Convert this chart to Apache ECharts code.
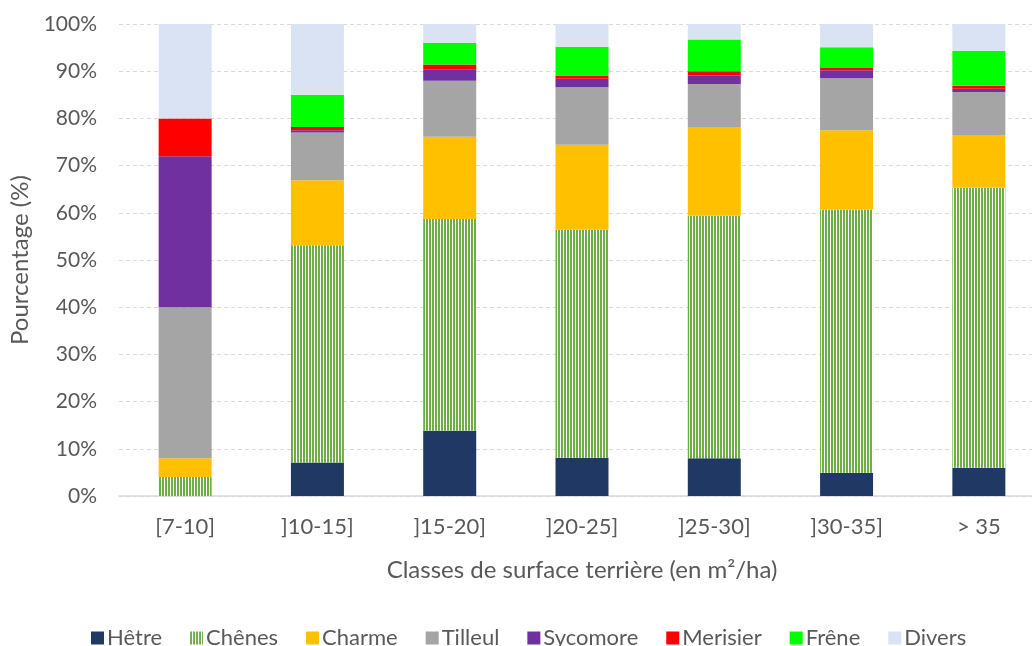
<!DOCTYPE html>
<html>
<head>
<meta charset="utf-8">
<script src="https://cdn.jsdelivr.net/npm/echarts@6/dist/echarts.min.js"></script>
<style>
  html, body { margin: 0; padding: 0; background: #fff; overflow: hidden; }
  #chart { width: 1045px; height: 646px; }
</style>
</head>
<body>
<div id="chart"></div>
<script>
// classes de surface terrière
const categories = ['[7-10]', ']10-15]', ']15-20]', ']20-25]', ']25-30]', ']30-35]', '> 35'];
const yTicks = [0, 10, 20, 30, 40, 50, 60, 70, 80, 90, 100];

// pourcentages par essence
const hetre    = [0,    7.1, 13.8,  8.1,  8.0,  4.9,  6.0];
const chenes   = [4,   46.0, 44.9, 48.3, 51.4, 55.8, 59.3];
const charme   = [4,   13.8, 17.4, 18.0, 18.8, 16.8, 11.2];
const tilleul  = [32,  10.1, 11.9, 12.2,  9.1, 11.0,  9.1];
const sycomore = [32,   0.5,  2.3,  1.8,  1.8,  1.7,  0.7];
const merisier = [8,    0.7,  1.1,  0.7,  0.9,  0.5,  0.6];
const frene    = [0,    6.8,  4.6,  6.1,  6.7,  4.4,  7.4];
const divers   = [20,  15.0,  4.0,  4.8,  3.3,  4.9,  5.7];

const seriesNames = ['Hêtre', 'Chênes', 'Charme', 'Tilleul', 'Sycomore', 'Merisier', 'Frêne', 'Divers'];
const seriesData = [hetre, chenes, charme, tilleul, sycomore, merisier, frene, divers];

// hachures verticales pour les chênes
const stripe = document.createElement('canvas');
stripe.width = 3;
stripe.height = 4;
const ctx = stripe.getContext('2d');
ctx.fillStyle = '#ffffff';
ctx.fillRect(0, 0, 3, 4);
ctx.fillStyle = '#70ad47';
ctx.fillRect(0, 0, 2, 4);

const colors = ['#203864', { image: stripe, repeat: 'repeat' }, '#ffc000', '#a5a5a5',
                '#7030a0', '#ff0000', '#00ff00', '#dae3f3'];

const font = 'Lato';
const txt = '#595959';

let myChart = echarts.init(document.getElementById('chart'));
myChart.setOption({
  animation: false,
  textStyle: { fontFamily: font },
  legend: {
    data: seriesNames,
    top: 622,
    left: 86,
    itemWidth: 13,
    itemHeight: 13,
    itemGap: 28,
    icon: 'rect',
    textStyle: { fontFamily: font, fontSize: 22, color: txt, padding: [0, 0, 0, -2] }
  },
  grid: {
    left: 119,
    right: 0,
    top: 24,
    height: 472,
    containLabel: false
  },
  xAxis: {
    type: 'category',
    data: categories,
    name: 'Classes de surface terrière (en m²/ha)',
    nameLocation: 'middle',
    nameGap: 62,
    nameTextStyle: { fontFamily: font, fontSize: 24, color: txt },
    axisLine: { lineStyle: { color: '#d9d9d9', width: 1.5 } },
    axisTick: { show: false },
    axisLabel: { fontFamily: font, fontSize: 22, color: txt, margin: 20 }
  },
  yAxis: {
    type: 'value',
    min: yTicks[0],
    max: yTicks[yTicks.length - 1],
    interval: 10,
    name: 'Pourcentage (%)',
    nameLocation: 'middle',
    nameGap: 85,
    nameTextStyle: { fontFamily: font, fontSize: 24, color: txt },
    axisLine: { show: false },
    axisTick: { show: false },
    axisLabel: { fontFamily: font, fontSize: 21, color: txt, margin: 22, formatter: '{value}%' },
    splitLine: { lineStyle: { color: '#d9d9d9', type: [4, 3], width: 1 } }
  },
  series: seriesNames.map(function (name, i) {
    return {
      name: name,
      type: 'bar',
      stack: 'total',
      barWidth: 53,
      data: seriesData[i],
      itemStyle: { color: colors[i] }
    };
  })
});
</script>
</body>
</html>
